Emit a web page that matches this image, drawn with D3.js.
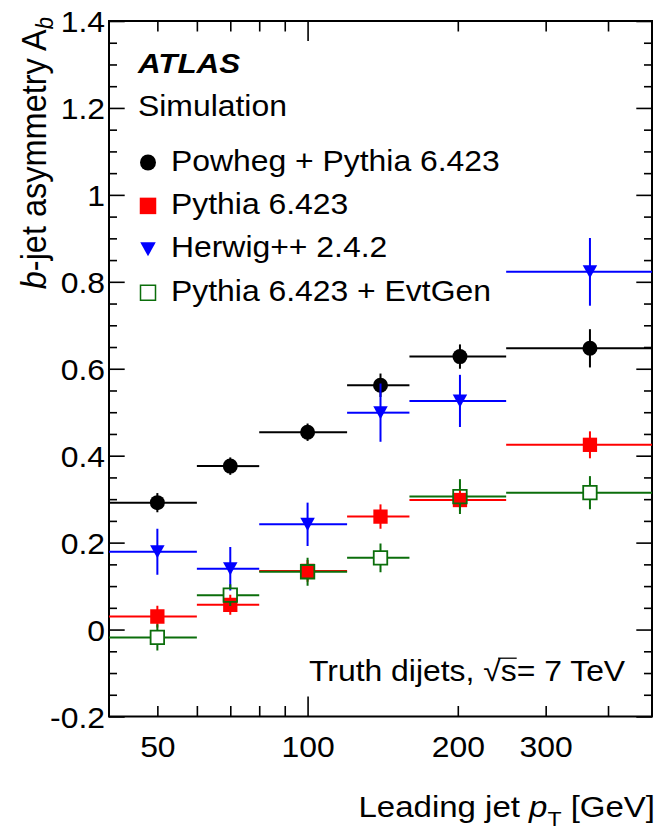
<!DOCTYPE html>
<html>
<head>
<meta charset="utf-8">
<script src="https://cdn.jsdelivr.net/npm/d3@7"></script>
<style>
  html, body { margin: 0; padding: 0; background: #fff; }
  svg { display: block; }
  text { font-family: "Liberation Sans", Arial, Helvetica, sans-serif; fill: #000; }
</style>
</head>
<body>
<svg id="chart" width="657" height="836"></svg>
<script>
// Leading-jet pT bins (GeV) and the point position inside each bin
const binEdges   = [40, 60, 80, 120, 160, 250, 500];
const binCentres = [50, 70, 100, 140, 202, 368];

// b-jet asymmetry A_b per generator, with statistical uncertainties
const powheg     = [0.292, 0.376, 0.454, 0.562, 0.628, 0.647];
const powhegErr  = [0.022, 0.020, 0.020, 0.027, 0.028, 0.044];
const pythia     = [0.030, 0.057, 0.135, 0.260, 0.298, 0.425];
const pythiaErr  = [0.025, 0.023, 0.025, 0.028, 0.025, 0.031];
const herwig     = [0.179, 0.140, 0.242, 0.499, 0.526, 0.823];
const herwigErr  = [0.053, 0.050, 0.050, 0.067, 0.060, 0.078];
const evtgen     = [-0.018, 0.079, 0.133, 0.165, 0.306, 0.315];
const evtgenErr  = [0.030, 0.025, 0.032, 0.033, 0.040, 0.038];

const seriesNames = ["Powheg + Pythia 6.423", "Pythia 6.423", "Herwig++ 2.4.2", "Pythia 6.423 + EvtGen"];

// Axis ticks
const xRange        = [40, 490];
const xLabelTicks   = [50, 100, 200, 300];
const xMajorTicks   = [100];
const xMinorTicks   = [50, 60, 70, 80, 90, 200, 300, 400];
const yRange        = [-0.2, 1.4];
const yMajorTicks   = [-0.2, 0, 0.2, 0.4, 0.6, 0.8, 1.0, 1.2, 1.4];
const yTickLabels   = ["-0.2", "0", "0.2", "0.4", "0.6", "0.8", "1", "1.2", "1.4"];
const yMinorTicks   = d3.range(-0.15, 1.4, 0.05).map(v => +v.toFixed(2)).filter(v => !yMajorTicks.some(m => Math.abs(m - v) < 1e-6));

const plot = { left: 109, right: 652, top: 21, bottom: 716.5 };
const SX = 1.1;           // horizontal glyph stretch
const FS = 29;            // base font size

const svg = d3.select("#chart");

const x = d3.scaleLog().domain(xRange).range([plot.left, plot.right]);
const y = d3.scaleLinear().domain(yRange).range([plot.bottom, plot.top]);

// ---- axes ----
function styleAxis(g) {
  g.select(".domain").remove();
  g.attr("font-size", null).attr("font-family", null);
  g.selectAll(".tick line").attr("stroke", "#000").attr("stroke-width", 1.6);
}

const yLabelFmt = v => yTickLabels[yMajorTicks.findIndex(m => Math.abs(m - v) < 1e-9)];
svg.append("g")
  .attr("transform", `translate(${plot.left},0)`)
  .call(d3.axisLeft(y).tickValues(yMajorTicks).tickFormat(yLabelFmt).tickSizeInner(-15.7).tickSizeOuter(0).tickPadding(4))
  .call(styleAxis)
  .call(g => g.selectAll(".tick text")
    .attr("font-size", FS)
    .attr("dy", "0.37em")
    .attr("x", -4 / SX)
    .attr("transform", `scale(${SX},1)`));
svg.append("g")
  .attr("transform", `translate(${plot.left},0)`)
  .call(d3.axisLeft(y).tickValues(yMinorTicks).tickFormat("").tickSizeInner(-8).tickSizeOuter(0))
  .call(styleAxis);
svg.append("g")
  .attr("transform", `translate(${plot.right},0)`)
  .call(d3.axisRight(y).tickValues(yMajorTicks).tickFormat("").tickSizeInner(-15.7).tickSizeOuter(0))
  .call(styleAxis);
svg.append("g")
  .attr("transform", `translate(${plot.right},0)`)
  .call(d3.axisRight(y).tickValues(yMinorTicks).tickFormat("").tickSizeInner(-8).tickSizeOuter(0))
  .call(styleAxis);

svg.append("g")
  .attr("transform", `translate(0,${plot.bottom})`)
  .call(d3.axisBottom(x).tickValues(xLabelTicks).tickFormat(d3.format("d")).tickSize(0))
  .call(styleAxis)
  .call(g => g.selectAll(".tick line").remove())
  .call(g => g.selectAll(".tick text")
    .attr("font-size", FS)
    .attr("y", 40.5)
    .attr("dy", null)
    .attr("transform", `scale(${SX},1)`));
[[d3.axisBottom, plot.bottom], [d3.axisTop, plot.top]].forEach(([axisFn, pos]) => {
  svg.append("g").attr("transform", `translate(0,${pos})`)
    .call(axisFn(x).tickValues(xMajorTicks).tickFormat("").tickSizeInner(-20).tickSizeOuter(0))
    .call(styleAxis);
  svg.append("g").attr("transform", `translate(0,${pos})`)
    .call(axisFn(x).tickValues(xMinorTicks).tickFormat("").tickSizeInner(-10.5).tickSizeOuter(0))
    .call(styleAxis);
});

svg.append("rect")
  .attr("x", plot.left).attr("y", plot.top)
  .attr("width", plot.right - plot.left).attr("height", plot.bottom - plot.top)
  .attr("fill", "none").attr("stroke", "#000").attr("stroke-width", 2);

// ---- data ----
svg.append("clipPath").attr("id", "plotClip")
  .append("rect")
  .attr("x", plot.left).attr("y", plot.top)
  .attr("width", plot.right - plot.left).attr("height", plot.bottom - plot.top);

const triangleDown = {
  draw(ctx, size) {
    const w = Math.sqrt(size), h = w * 0.9;
    ctx.moveTo(-w / 2, -h / 2);
    ctx.lineTo(w / 2, -h / 2);
    ctx.lineTo(0, h / 2);
    ctx.closePath();
  }
};
const squareSym = {
  draw(ctx, size) {
    const s = Math.sqrt(size);
    ctx.rect(-s / 2, -s / 2, s, s);
  }
};

const series = [
  { name: seriesNames[0], vals: powheg, errs: powhegErr, color: "#000000", type: d3.symbolCircle, dataSize: Math.PI * 7.5 * 7.5, legSize: Math.PI * 8 * 8, open: false },
  { name: seriesNames[1], vals: pythia, errs: pythiaErr, color: "#ff0000", type: squareSym, dataSize: 14.3 * 14.3, legSize: 16.5 * 16.5, open: false },
  { name: seriesNames[2], vals: herwig, errs: herwigErr, color: "#0000ff", type: triangleDown, dataSize: 14.5 * 14.5, legSize: 15.5 * 15.5, open: false },
  { name: seriesNames[3], vals: evtgen, errs: evtgenErr, color: "#0b6e0b", type: squareSym, dataSize: 13.5 * 13.5, legSize: 15 * 15, open: true }
];

const dataG = svg.append("g").attr("clip-path", "url(#plotClip)");

series.forEach(s => {
  const g = dataG.append("g");
  // open markers leave their interior clear of the error bars
  const gap = s.open ? Math.sqrt(s.dataSize) / 2 : 0;
  const pts = s.vals.map((v, i) => ({ v, e: s.errs[i], lo: binEdges[i], hi: binEdges[i + 1], c: binCentres[i] }));
  const segs = [];
  pts.forEach(d => {
    const cx = x(d.c), cy = y(d.v);
    segs.push([x(d.lo), cy, cx - gap, cy]);
    segs.push([cx + gap, cy, x(d.hi), cy]);
    segs.push([cx, y(d.v + d.e), cx, cy - gap]);
    segs.push([cx, cy + gap, cx, y(d.v - d.e)]);
  });
  g.selectAll("line").data(segs).join("line")
    .attr("x1", d => d[0]).attr("y1", d => d[1])
    .attr("x2", d => d[2]).attr("y2", d => d[3])
    .attr("stroke", s.color).attr("stroke-width", 2);
  g.selectAll("path.m").data(pts).join("path").attr("class", "m")
    .attr("transform", d => `translate(${x(d.c)},${y(d.v)})`)
    .attr("d", d3.symbol().type(s.type).size(s.dataSize)())
    .attr("fill", s.open ? "none" : s.color)
    .attr("stroke", s.open ? s.color : "none")
    .attr("stroke-width", 1.8);
});

// ---- labels ----
function stretchedText(px, py, anchor) {
  return svg.append("g")
    .attr("transform", `translate(${px},${py}) scale(${SX},1)`)
    .append("text")
    .attr("text-anchor", anchor || "start");
}

stretchedText(138, 73).attr("font-size", 28.5).attr("font-weight", "bold").attr("font-style", "italic").text("ATLAS");
stretchedText(138, 116).attr("font-size", FS).text("Simulation");

series.forEach((s, i) => {
  const base = 170.5 + i * 43.4;
  svg.append("path")
    .attr("transform", `translate(148,${base - 8})`)
    .attr("d", d3.symbol().type(s.type).size(s.legSize)())
    .attr("fill", s.open ? "none" : s.color)
    .attr("stroke", s.open ? s.color : "none")
    .attr("stroke-width", 1.5);
  stretchedText(171, base).attr("font-size", FS).text(s.name);
});

// energy label with a radical over s
const ecm = stretchedText(309, 681).attr("font-size", FS);
ecm.append("tspan").text("Truth dijets, ");
ecm.append("tspan").text("\u221A");
ecm.append("tspan").text("s");
ecm.append("tspan").text("= 7 TeV");
{
  const node = ecm.node();
  const pre = "Truth dijets, ".length;
  const rootStart = node.getSubStringLength(0, pre);
  const rootW = node.getSubStringLength(pre, 1);
  const sW = node.getSubStringLength(pre + 1, 1);
  d3.select(node.parentNode).append("line")
    .attr("x1", rootStart + rootW * 0.85).attr("x2", rootStart + rootW + sW)
    .attr("y1", -22.8).attr("y2", -22.8)
    .attr("stroke", "#000").attr("stroke-width", 1.3);
}

// x-axis title
const xt = stretchedText(655, 817, "end").attr("font-size", 30);
xt.append("tspan").text("Leading jet ");
xt.append("tspan").attr("font-style", "italic").text("p");
xt.append("tspan").attr("font-size", 21).attr("dy", 9).text("T");
xt.append("tspan").attr("dy", -9).text(" [GeV]");

// y-axis title
const yt = svg.append("g")
  .attr("transform", `translate(46,17) scale(${SX},1) rotate(-90)`)
  .append("text").attr("text-anchor", "end").attr("font-size", 32.5);
yt.append("tspan").attr("font-style", "italic").text("b");
yt.append("tspan").text("-jet asymmetry A");
yt.append("tspan").attr("font-style", "italic").attr("font-size", 22).attr("dy", 6).text("b");
</script>
</body>
</html>
